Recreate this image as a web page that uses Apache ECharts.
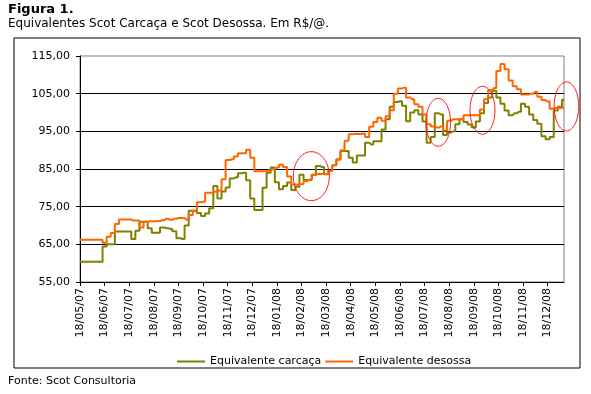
<!DOCTYPE html>
<html><head><meta charset="utf-8">
<script src="https://cdn.jsdelivr.net/npm/echarts@6/dist/echarts.min.js"></script>
<style>html,body{margin:0;padding:0;background:#fff;}#c{width:591px;height:394px;}</style>
</head><body><div id="c"></div>
<script>
const tickLabels = ['18/05/07','18/06/07','18/07/07','18/08/07','18/09/07','18/10/07','18/11/07','18/12/07',
  '18/01/08','18/02/08','18/03/08','18/04/08','18/05/08','18/06/08','18/07/08','18/08/08','18/09/08','18/10/08','18/11/08','18/12/08'];
const pointsPerTick = 6;
const seriesNames = ['Equivalente carcaça', 'Equivalente desossa'];
const carcaca = [
  60.4,60.4,60.4,60.4,60.4,60.4,64.4,65.0,65.0,68.4,
  68.4,68.4,68.4,66.4,68.6,71.0,71.0,69.3,68.1,68.1,
  69.5,69.3,69.1,68.5,66.6,66.4,70.0,73.9,73.9,73.3,
  72.5,73.2,74.6,80.5,77.2,79.0,80.1,82.5,82.8,83.9,
  84.0,82.0,77.2,74.1,74.1,80.0,84.0,85.4,81.5,79.6,
  80.5,81.4,79.4,80.3,83.5,82.1,82.1,83.4,85.8,85.5,
  83.6,84.5,86.0,87.5,89.8,89.8,88.0,86.7,88.6,88.6,
  92.0,91.5,92.4,92.4,95.5,98.2,101.5,102.8,103.0,101.8,
  97.7,100.0,100.6,99.5,97.6,92.0,93.5,99.8,99.5,94.0,
  94.7,95.0,96.9,98.2,97.5,96.8,96.0,97.6,99.8,102.5,
  104.0,105.8,104.0,102.3,100.5,99.3,99.8,100.2,102.3,101.5,
  99.5,98.0,97.0,93.7,92.9,93.5,100.5,101.5,103.4
];
const desossa = [
  66.2,66.2,66.2,66.2,66.2,66.2,65.4,67.0,68.0,70.4,
  71.6,71.6,71.6,71.3,71.3,69.5,71.0,71.1,71.1,71.2,
  71.4,71.8,71.5,71.8,72.0,72.0,71.5,72.8,73.9,76.2,
  76.3,78.7,78.7,79.0,79.3,82.3,87.4,87.6,88.3,89.2,
  89.2,90.1,88.0,84.4,84.4,84.4,84.6,85.0,85.4,86.1,
  85.5,83.0,80.9,80.8,81.0,81.8,82.2,83.5,83.7,83.7,
  83.7,84.5,86.0,87.5,90.0,92.5,94.2,94.3,94.3,94.4,
  93.5,96.2,97.5,98.6,97.8,99.0,100.6,105.0,106.4,106.6,
  104.0,103.5,102.2,101.5,99.5,96.9,96.3,96.0,96.3,95.2,
  97.8,98.2,98.2,98.2,99.3,99.3,99.3,99.3,100.8,103.5,
  106.0,106.5,111.0,112.9,111.5,108.5,107.0,106.2,104.8,104.8,
  105.0,105.5,104.2,103.3,102.9,101.0,101.2,101.2,101.2
];
const categories = carcaca.map((_, i) => String(i));
// highlighted regions (red ellipses): centre in data units (category index, value)
const highlightIdx = [56.4, 87.35, 98.13, 118.6];
const highlightVal = [83.1, 97.4, 100.6, 101.6];

const FONT = 'DejaVu Sans';
const chart = echarts.init(document.getElementById('c'), null, {renderer: 'canvas'});
const option = {
  animation: false,
  backgroundColor: '#fff',
  textStyle: {fontFamily: FONT, color: '#000'},
  title: [
    {text: 'Figura 1.', left: 8, top: 3, padding: 0,
     textStyle: {fontFamily: FONT, fontSize: 13, fontWeight: 'bold', color: '#000'}},
    {text: 'Equivalentes Scot Carcaça e Scot Desossa. Em R$/@.', left: 8, top: 18, padding: 0,
     textStyle: {fontFamily: FONT, fontSize: 12, fontWeight: 'normal', color: '#000'}},
    {text: 'Fonte: Scot Consultoria', left: 8, top: 376, padding: 0,
     textStyle: {fontFamily: FONT, fontSize: 11, fontWeight: 'normal', color: '#000'}}
  ],
  legend: {
    data: seriesNames, left: 177, top: 356, padding: 0, itemGap: 4,
    icon: 'rect', itemWidth: 28, itemHeight: 2,
    textStyle: {fontFamily: FONT, fontSize: 11, color: '#000'}
  },
  grid: [
    {left: 80, top: 56, right: 27, bottom: 112, show: true, borderColor: '#808080', borderWidth: 1,
     containLabel: false, outerBoundsMode: 'none'},
    {left: 14, top: 38, width: 566, height: 330, show: true, borderColor: '#000', borderWidth: 1,
     backgroundColor: 'transparent', containLabel: false, outerBoundsMode: 'none', z: 0}
  ],
  xAxis: [{
    type: 'category', data: categories, boundaryGap: false, gridIndex: 0,
    axisLine: {lineStyle: {color: '#000', width: 1}},
    axisTick: {show: true, interval: pointsPerTick - 1, length: 4, lineStyle: {color: '#000'}},
    axisLabel: {interval: pointsPerTick - 1, rotate: 90, margin: 6, fontSize: 11, fontFamily: FONT, color: '#000',
      formatter: (v, i) => tickLabels[Math.round(i / pointsPerTick)] || ''},
    splitLine: {show: false}
  }, {type: 'value', gridIndex: 1, show: false}],
  yAxis: [{
    type: 'value', min: 55, max: 115, interval: 10, gridIndex: 0,
    axisLine: {show: true, lineStyle: {color: '#000', width: 1}},
    axisTick: {show: true, length: 4, lineStyle: {color: '#000'}},
    axisLabel: {margin: 10, fontSize: 11, fontFamily: FONT, color: '#000',
      formatter: v => v.toFixed(2).replace('.', ',')},
    splitLine: {show: true, showMinLine: false, showMaxLine: false, lineStyle: {color: '#000', width: 1}}
  }, {type: 'value', gridIndex: 1, show: false}],
  series: [
    {name: seriesNames[0], type: 'line', data: carcaca, step: 'middle', showSymbol: false, color: '#808000',
     xAxisIndex: 0, yAxisIndex: 0, lineStyle: {width: 2, color: '#808000'}},
    {name: seriesNames[1], type: 'line', data: desossa, step: 'middle', showSymbol: false, color: '#FF6600',
     xAxisIndex: 0, yAxisIndex: 0, lineStyle: {width: 2, color: '#FF6600'}}
  ]
};
chart.setOption(option);

const x0 = chart.convertToPixel({xAxisIndex: 0}, 0);
const xN = chart.convertToPixel({xAxisIndex: 0}, categories.length - 1);
const step = (xN - x0) / (categories.length - 1);
const radX = [18, 12.3, 12.5, 12.3];
const radY = [24.5, 24, 24, 24.5];
const graphics = [];
highlightIdx.forEach((idx, k) => {
  const cx = x0 + idx * step;
  const cy = chart.convertToPixel({yAxisIndex: 0}, highlightVal[k]);
  graphics.push({id: 'hl' + k, type: 'ellipse', shape: {cx: cx, cy: cy, rx: radX[k], ry: radY[k]},
    style: {fill: 'none', stroke: '#ff1a1a', lineWidth: 1}, z: 100, silent: true});
});
chart.setOption({graphic: graphics});
</script>
</body></html>
